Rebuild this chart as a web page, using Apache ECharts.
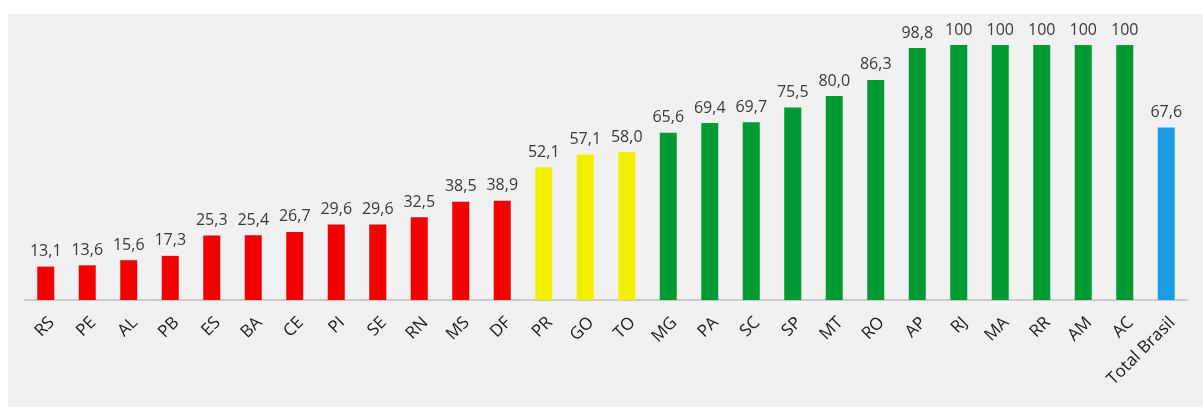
<!DOCTYPE html>
<html>
<head>
<meta charset="utf-8">
<script src="https://cdn.jsdelivr.net/npm/echarts@6/dist/echarts.min.js"></script>
<style>
  html, body { margin: 0; padding: 0; background: #ffffff; }
  #main { position: absolute; left: 8px; top: 14px; width: 1195px; height: 393px; background: #f1f1f1; }
</style>
</head>
<body>
<div id="main"></div>
<script>
// estados ordenados pelo percentual
var estados = ['RS', 'PE', 'AL', 'PB', 'ES', 'BA', 'CE', 'PI', 'SE', 'RN', 'MS', 'DF',
               'PR', 'GO', 'TO',
               'MG', 'PA', 'SC', 'SP', 'MT', 'RO', 'AP', 'RJ', 'MA', 'RR', 'AM', 'AC',
               'Total Brasil'];
var valores = [13.1, 13.6, 15.6, 17.3, 25.3, 25.4, 26.7, 29.6, 29.6, 32.5, 38.5, 38.9,
               52.1, 57.1, 58.0,
               65.6, 69.4, 69.7, 75.5, 80.0, 86.3, 98.8, 100, 100, 100, 100, 100,
               67.6];
var faixas = ['r', 'r', 'r', 'r', 'r', 'r', 'r', 'r', 'r', 'r', 'r', 'r',
              'y', 'y', 'y',
              'g', 'g', 'g', 'g', 'g', 'g', 'g', 'g', 'g', 'g', 'g', 'g',
              'b'];
var cores = { r: '#f20000', y: '#f2f000', g: '#009a33', b: '#1a9de0' };

var dados = valores.map(function (v, i) {
    return { value: v, itemStyle: { color: cores[faixas[i]] } };
});

var chart = echarts.init(document.getElementById('main'));
chart.setOption({
    backgroundColor: '#f1f1f1',
    animation: false,
    grid: { left: 17, right: 16, top: 31, bottom: 107 },
    xAxis: {
        type: 'category',
        data: estados,
        axisLine: { lineStyle: { color: '#bdbdbd', width: 1.5 } },
        axisTick: { show: false },
        axisLabel: {
            rotate: 45,
            interval: 0,
            margin: 14,
            verticalAlign: 'top',
            color: '#1a1a1a',
            fontFamily: 'Open Sans',
            fontSize: 17
        }
    },
    yAxis: {
        type: 'value',
        min: 0,
        max: 100,
        show: false
    },
    series: [{
        type: 'bar',
        data: dados,
        barWidth: 17,
        label: {
            show: true,
            position: 'top',
            distance: 7,
            color: '#3a3a3a',
            fontFamily: 'Open Sans',
            fontSize: 16,
            formatter: function (p) {
                return p.value === 100 ? '100' : p.value.toFixed(1).replace('.', ',');
            }
        }
    }]
});
</script>
</body>
</html>
